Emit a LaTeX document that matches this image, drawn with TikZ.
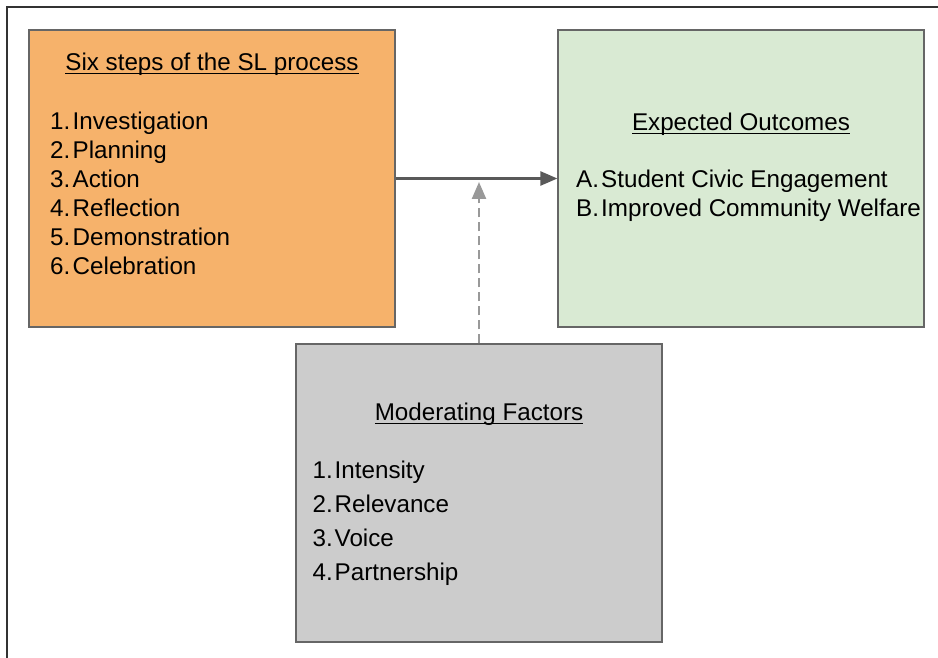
\documentclass[tikz,border=0pt]{standalone}
\usepackage{fontspec}
\setmainfont{Liberation Sans}
\usetikzlibrary{arrows.meta}
\definecolor{stepfill}{HTML}{F6B26B}
\definecolor{outfill}{HTML}{D9EAD3}
\definecolor{modfill}{HTML}{CCCCCC}
\definecolor{edge}{HTML}{666666}
\definecolor{arrowdark}{HTML}{595959}
\definecolor{arrowlight}{HTML}{999999}
\definecolor{framecol}{HTML}{333333}
% underline drawn at a fixed depth, crossing descenders
\newcommand\ulheading[1]{\setbox0\hbox{#1}\rlap{\rule[-3.4pt]{\wd0}{1.3pt}}\box0}
\tikzset{
  panel/.style={draw=edge, line width=1.2pt, minimum width=366pt, minimum height=297pt, inner sep=0pt},
  txt/.style={inner sep=0pt, font=\fontsize{24.2}{29}\selectfont},
  heading/.style={txt, anchor=base},
  item/.style={txt, anchor=base west},
  link/.style={line width=2.4pt, -{Triangle[length=17pt, width=14pt]}},
}
\begin{document}
\begin{tikzpicture}[x=1pt, y=-1pt]
\useasboundingbox (0,0) rectangle (938,658);
% partial outer frame
\draw[framecol, line width=1.6pt] (6.8,658) -- (6.8,7.2) -- (938,7.2);

% panels
\node[panel, fill=stepfill] (steps) at (212,178.5) {};
\node[panel, fill=outfill] (outcomes) at (741,178.5) {};
\node[panel, fill=modfill, minimum height=298pt] (factors) at (479,493) {};

% headings
\node[heading] (stepsT) at (212,71) {\ulheading{Six steps of the SL process}};
\node[heading] (outT) at (741,130.5) {\ulheading{Expected Outcomes}};
\node[heading] (facT) at (479,420.5) {\ulheading{Moderating Factors}};

% SL process steps
\foreach \t [count=\i, evaluate=\i as \yy using 100.5+29*\i] in
  {Investigation,Planning,Action,Reflection,Demonstration,Celebration}{
  \node[item] (sn\i) at (50,\yy) {\i.};
  \node[item] (st\i) at (72.5,\yy) {\t};
}

% outcomes
\node[item] (on1) at (576,187.5) {A.};
\node[item] (ot1) at (601,187.5) {Student Civic Engagement};
\node[item] (on2) at (576,216.5) {B.};
\node[item] (ot2) at (601,216.5) {Improved Community Welfare};

% moderating factors
\foreach \t [count=\i, evaluate=\i as \yy using 444.5+34*\i] in
  {Intensity,Relevance,Voice,Partnership}{
  \node[item] (fn\i) at (312.5,\yy) {\i.};
  \node[item] (ft\i) at (334.5,\yy) {\t};
}

% connectors
\coordinate (join) at (479,182);
\draw[arrowdark, link] (steps) -- (outcomes);
\draw[arrowlight, link, dash pattern=on 9pt off 5pt] (factors) -- (join);
\end{tikzpicture}
\end{document}
